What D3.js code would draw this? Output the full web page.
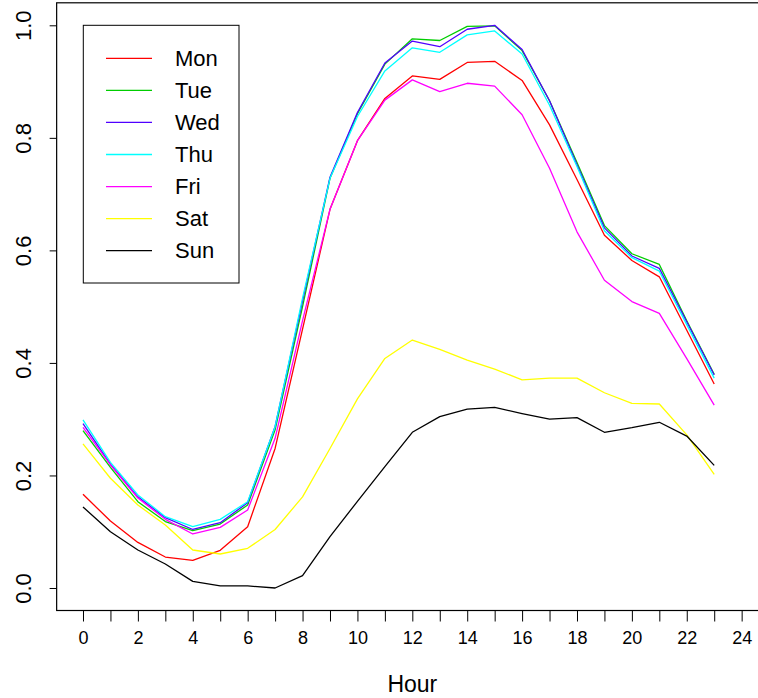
<!DOCTYPE html>
<html>
<head>
<meta charset="utf-8">
<script src="https://cdn.jsdelivr.net/npm/d3@7"></script>
<style>
  html, body { margin: 0; padding: 0; background: #fff; }
  svg { display: block; }
  text { font-family: "Liberation Sans", Arial, Helvetica, sans-serif; fill: #000; }
</style>
</head>
<body>
<svg id="chart" width="758" height="698"></svg>
<script>
const hours = [0,1,2,3,4,5,6,7,8,9,10,11,12,13,14,15,16,17,18,19,20,21,22,23];
const days = ["Mon","Tue","Wed","Thu","Fri","Sat","Sun"];
const dayColors = ["#FF0000","#00CD00","#5000FF","#00FFFF","#FF00FF","#FFFF00","#000000"];

const mon = [0.1665,0.119,0.081,0.055,0.049,0.067,0.109,0.248,0.460,0.673,0.795,0.870,0.910,0.904,0.934,0.936,0.902,0.823,0.726,0.627,0.582,0.553,0.458,0.3625];
const tue = [0.2796,0.2145,0.1534,0.118,0.102,0.1137,0.1475,0.281,0.500,0.728,0.843,0.931,0.976,0.973,0.998,0.999,0.955,0.866,0.756,0.644,0.594,0.575,0.475,0.380];
const wed = [0.292,0.220,0.162,0.125,0.104,0.116,0.1516,0.287,0.510,0.730,0.845,0.933,0.972,0.962,0.993,1.000,0.957,0.866,0.752,0.640,0.590,0.568,0.473,0.3785];
const thu = [0.2986,0.2233,0.1653,0.1268,0.109,0.122,0.1534,0.2867,0.515,0.728,0.838,0.919,0.960,0.952,0.983,0.990,0.949,0.858,0.749,0.635,0.587,0.563,0.468,0.373];
const fri = [0.2855,0.2186,0.160,0.122,0.096,0.1078,0.1386,0.266,0.475,0.673,0.795,0.867,0.903,0.882,0.897,0.892,0.841,0.746,0.633,0.547,0.509,0.488,0.4076,0.325];
const sat = [0.256,0.195,0.1475,0.112,0.0675,0.0604,0.0705,0.104,0.162,0.248,0.336,0.408,0.4407,0.424,0.405,0.389,0.370,0.373,0.373,0.347,0.328,0.327,0.272,0.202];
const sun = [0.144,0.100,0.0675,0.0427,0.0118,0.0036,0.0036,0.000,0.022,0.0912,0.154,0.2156,0.2767,0.3045,0.318,0.321,0.310,0.300,0.3027,0.2767,0.2849,0.2945,0.270,0.218];

const xTicks = [0,1,2,3,4,5,6,7,8,9,10,11,12,13,14,15,16,17,18,19,20,21,22,23,24];
const xTickLabels = ["0","","2","","4","","6","","8","","10","","12","","14","","16","","18","","20","","22","","24"];
const yTicks = [0,0.2,0.4,0.6,0.8,1.0];
const yTickLabels = ["0.0","0.2","0.4","0.6","0.8","1.0"];
const xTitle = "Hour";

const series = [mon, tue, wed, thu, fri, sat, sun];

const svg = d3.select("#chart");
const x = d3.scaleLinear().domain([-0.96, 24.96]).range([56.65, 768]);
const y = d3.scaleLinear().domain([-0.04, 1.04]).range([610.5, 2.8]);

// plot box
svg.append("rect")
  .attr("x", x(-0.96)).attr("y", y(1.04))
  .attr("width", x(24.96) - x(-0.96)).attr("height", y(-0.04) - y(1.04))
  .attr("fill", "none").attr("stroke", "#000").attr("stroke-width", 1.2);

// x axis
const xAxis = d3.axisBottom(x).tickValues(xTicks).tickSize(11).tickPadding(10)
  .tickFormat((d, i) => xTickLabels[i]);
const gx = svg.append("g").attr("transform", `translate(0,${y(-0.04)})`).call(xAxis);
gx.select(".domain").remove();
gx.selectAll(".tick line").attr("stroke", "#000").attr("stroke-width", 1);
gx.selectAll(".tick text").attr("font-size", 18).attr("fill", "#000")
  .attr("font-family", "Liberation Sans, Arial, sans-serif");

// y axis
const yAxis = d3.axisLeft(y).tickValues(yTicks).tickSize(7)
  .tickFormat((d, i) => yTickLabels[i]);
const gy = svg.append("g").attr("transform", `translate(${x(-0.96)},0)`).call(yAxis);
gy.select(".domain").remove();
gy.selectAll(".tick line").attr("stroke", "#000").attr("stroke-width", 1);
gy.selectAll(".tick text")
  .attr("font-size", 22).attr("fill", "#000")
  .attr("font-family", "Liberation Sans, Arial, sans-serif")
  .attr("text-anchor", "middle")
  .attr("dy", null)
  .attr("x", null)
  .attr("dominant-baseline", "central")
  .attr("transform", `translate(${23.5 - x(-0.96)},0) rotate(-90)`);

// axis title
svg.append("text")
  .attr("x", (x(-0.96) + x(24.96)) / 2).attr("y", 692)
  .attr("text-anchor", "middle").attr("font-size", 23)
  .text(xTitle);

// lines
const line = d3.line().x((d, i) => x(hours[i])).y(d => y(d));
series.forEach((s, k) => {
  svg.append("path").datum(s)
    .attr("d", line)
    .attr("fill", "none")
    .attr("stroke", dayColors[k])
    .attr("stroke-width", 1.3)
    .attr("stroke-linejoin", "round");
});

// legend
const lg = svg.append("g");
lg.append("rect").attr("x", 83.3).attr("y", 25.3).attr("width", 155.7).attr("height", 257.7)
  .attr("fill", "#fff").attr("stroke", "#000").attr("stroke-width", 1);
days.forEach((dname, i) => {
  const yy = 58.3 + 32.07 * i;
  lg.append("line").attr("x1", 106).attr("x2", 152).attr("y1", yy).attr("y2", yy)
    .attr("stroke", dayColors[i]).attr("stroke-width", 1.3);
  lg.append("text").attr("x", 175).attr("y", yy).attr("dominant-baseline", "central")
    .attr("font-size", 22).text(dname);
});
</script>
</body>
</html>
